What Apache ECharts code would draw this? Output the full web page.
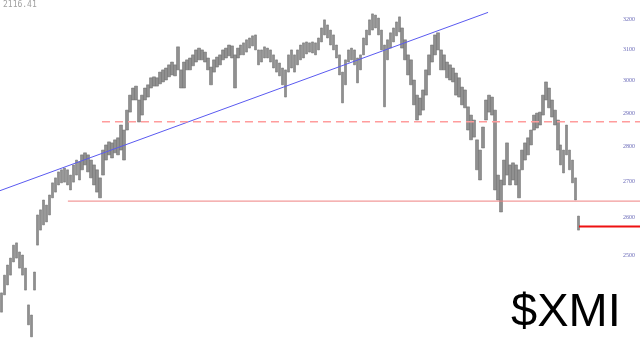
<!DOCTYPE html>
<html>
<head>
<meta charset="utf-8">
<script src="https://cdn.jsdelivr.net/npm/echarts@6/dist/echarts.min.js"></script>
<style>
html,body{margin:0;padding:0;background:#fff;}
#chart{width:640px;height:349px;}
</style>
</head>
<body>
<div id="chart"></div>
<script>
// ---- data (price units) ----
const highs = [
2403,2448,2474,2492,2526,2532,2508,2500,2466,2373,2348,2456,2607,2621,2648,2634,2662,2696,2710,2727,
2733,2738,2733,2718,2747,2761,2756,2776,2782,2776,2761,2747,2733,2710,2790,2805,2814,2811,2820,2826,
2864,2849,2909,2955,2977,2983,2940,2955,2977,2987,3009,3012,3009,3027,3034,3040,3050,3059,3050,3108,
3034,3059,3066,3072,3082,3098,3104,3098,3091,3072,3043,3066,3075,3082,3098,3104,3114,3111,3082,3104,
3114,3121,3131,3137,3144,3147,3098,3098,3108,3104,3098,3082,3066,3056,3040,3034,3082,3098,3082,3098,
3114,3121,3124,3121,3124,3121,3137,3170,3197,3180,3163,3147,3114,3082,3027,3066,3098,3104,3098,3072,
3082,3137,3163,3197,3217,3213,3203,3163,3114,3131,3154,3170,3190,3207,3170,3131,3082,3066,3002,2955,
2946,2971,3034,3082,3114,3147,3154,3098,3082,3059,3050,3040,3024,3009,2980,2971,2919,2894,2879,2820,
2790,2858,2940,2955,2949,2909,2718,2704,2761,2811,2747,2753,2747,2733,2790,2811,2826,2849,2894,2900,
2903,2955,2996,2977,2940,2909,2879,2805,2790,2864,2790,2761,2710,2604
];
const lows = [
2355,2398,2423,2448,2482,2492,2466,2448,2410,2324,2295,2410,2526,2566,2580,2588,2607,2654,2670,2690,
2696,2698,2690,2676,2698,2718,2704,2733,2747,2727,2710,2690,2670,2654,2718,2761,2776,2767,2782,2776,
2790,2761,2849,2903,2940,2940,2873,2894,2940,2949,2977,2983,2983,2990,2996,3002,3012,3018,3015,3034,
2977,2977,3034,3034,3047,3059,3066,3066,3059,3034,2987,3027,3043,3050,3066,3072,3079,3072,2977,3072,
3082,3082,3091,3104,3111,3098,3050,3059,3072,3072,3059,3040,3027,3015,2987,2949,3027,3040,3027,3050,
3066,3072,3085,3091,3088,3082,3098,3124,3147,3137,3114,3098,3072,3018,2931,2987,3059,3066,3050,2993,
3034,3082,3114,3147,3163,3170,3147,3098,2919,3066,3104,3124,3144,3157,3104,3066,3018,2987,2925,2879,
2894,2909,2955,3018,3059,3082,3098,3034,3034,3009,3002,2996,2955,2949,2925,2916,2849,2820,2828,2733,
2704,2796,2879,2903,2894,2676,2648,2615,2690,2718,2690,2704,2690,2654,2733,2761,2776,2805,2849,2855,
2864,2894,2940,2916,2888,2864,2790,2747,2724,2776,2733,2696,2648,2566
];
const categories = highs.map((_, i) => String(i + 1));
const yTickLabels = [2500, 2600, 2700, 2800, 2900, 3000, 3100, 3200];
const lastPriceText = '2116.41';
const symbolText = '$XMI';
// annotation lines: [startIndex, endIndex, startPrice, endPrice]
const trendLine = [0, 163.2, 2674, 3222];
const resistanceLine = [34.1, 214, 2874, 2874];
const supportLine = [22.7, 214, 2645, 2645];
const closeLine = [193.6, 214, 2576, 2576];

// ---- chart ----
const SLOTS = 214;
const L = Math.log;
const candleData = highs.map((h, i) => [L(lows[i]), L(h), L(lows[i]), L(h)]);
const seg = (a) => [[a[0], L(a[2])], [a[1], L(a[3])]];

const chart = echarts.init(document.getElementById('chart'), null, {renderer: 'canvas'});
const cats = categories.concat(Array.from({length: SLOTS - categories.length}, (_, i) => 'e' + i));
chart.setOption({
  animation: false,
  backgroundColor: '#ffffff',
  title: [
    {text: lastPriceText, left: 3, top: 1, padding: 0,
     textStyle: {fontFamily: 'DejaVu Sans Mono', fontSize: 8, fontWeight: 'normal', color: '#a0a0a0'}},
    {text: symbolText, left: 511, top: 290, padding: 0,
     textStyle: {fontFamily: 'Liberation Sans', fontSize: 47, fontWeight: 'normal', color: '#000'}}
  ],
  grid: {left: 0, right: 0, top: 0, bottom: 0},
  xAxis: [
    {type: 'category', data: cats, boundaryGap: true, show: false},
    {type: 'value', min: 0, max: SLOTS, show: false}
  ],
  yAxis: {
    type: 'value', position: 'right',
    min: L(2266), max: L(3264),
    axisLine: {show: false}, axisTick: {show: false}, splitLine: {show: false},
    axisLabel: {
      inside: true, margin: 5,
      customValues: yTickLabels.map(v => L(v)),
      formatter: (v) => String(Math.round(Math.exp(v))),
      fontFamily: 'Liberation Serif', fontSize: 6, color: '#6a6ab8'
    }
  },
  series: [
    {type: 'candlestick', xAxisIndex: 0, data: candleData, barWidth: 3,
     itemStyle: {color: '#909090', color0: '#909090', borderColor: '#6a6a6a', borderColor0: '#6a6a6a', borderWidth: 0.5}},
    {type: 'line', xAxisIndex: 1, data: seg(trendLine), symbol: 'none', silent: true,
     lineStyle: {color: '#5a5af0', width: 1}},
    {type: 'line', xAxisIndex: 1, data: seg(resistanceLine), symbol: 'none', silent: true,
     lineStyle: {color: '#ff9c9c', width: 1.5, type: [8, 5]}},
    {type: 'line', xAxisIndex: 1, data: seg(supportLine), symbol: 'none', silent: true,
     lineStyle: {color: '#ee8080', width: 1}},
    {type: 'line', xAxisIndex: 1, data: seg(closeLine), symbol: 'none', silent: true,
     lineStyle: {color: '#ee1111', width: 2}}
  ]
});
</script>
</body>
</html>
